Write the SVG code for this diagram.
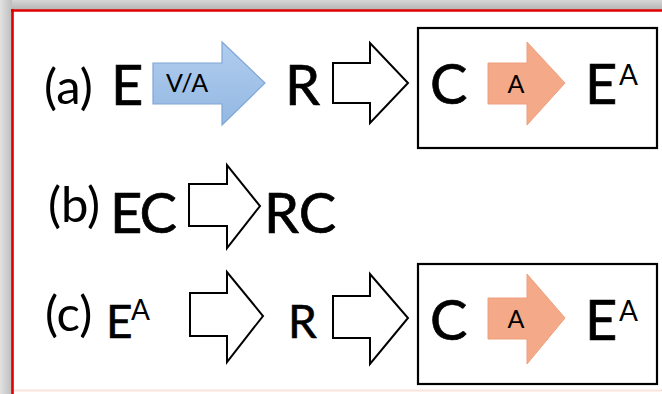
<svg xmlns="http://www.w3.org/2000/svg" width="662" height="394" viewBox="0 0 662 394">
  <defs>
    <linearGradient id="shadeTop" x1="0" y1="0" x2="0" y2="1">
      <stop offset="0" stop-color="#d6d6d6"/>
      <stop offset="1" stop-color="#b4b4b4"/>
    </linearGradient>
    <linearGradient id="shadeLeft" x1="0" y1="0" x2="1" y2="0">
      <stop offset="0" stop-color="#e2e2e2"/>
      <stop offset="1" stop-color="#bdbdbd"/>
    </linearGradient>
    <linearGradient id="blueFill" x1="0" y1="0" x2="0" y2="1">
      <stop offset="0" stop-color="#b0cdee"/>
      <stop offset="1" stop-color="#94b8e2"/>
    </linearGradient>
  </defs>
  <style>
    .t { font-family: Lato, "Open Sans", "Liberation Sans", sans-serif; fill: #000; stroke: #000; stroke-width: 0; }
    .big { font-size: 56px; stroke-width: 0.7; }
    .mid { font-size: 46px; stroke-width: 0.6; }
    .lbl { font-size: 49px; }
    .sup { font-size: 28px; }
    .tag { font-size: 25px; text-anchor: middle; }
    .hollow { fill: #fff; stroke: #000; stroke-width: 2; stroke-linejoin: miter; }
    .blue { fill: url(#blueFill); stroke: #7fa6d6; stroke-width: 1.2; }
    .orange { fill: #f4a988; stroke: #eea07e; stroke-width: 1; }
    .box { fill: none; stroke: #000; stroke-width: 2.2; }
  </style>

  <!-- page background, drop shadow and frame -->
  <rect x="0" y="0" width="662" height="394" fill="#fff"/>
  <rect x="0" y="0" width="662" height="10" fill="url(#shadeTop)"/>
  <rect x="0" y="0" width="12" height="394" fill="url(#shadeLeft)"/>
  <line x1="12.5" y1="9" x2="12.5" y2="394" stroke="#e00000" stroke-width="2.6"/>
  <line x1="11" y1="10.5" x2="662" y2="10.5" stroke="#e00000" stroke-width="2.6"/>
  <line x1="14" y1="390.5" x2="662" y2="390.5" stroke="#fbe4dc" stroke-width="2"/>

  <!-- row (a) -->
  <g id="row-a-label"><text class="t lbl" x="44" y="104">(a)</text></g>
  <g id="node-a-E"><text class="t big" x="111" y="105">E</text></g>
  <g id="node-a-R"><text class="t big" x="285" y="105">R</text></g>
  <g id="node-a-box">
    <rect class="box" x="418" y="28" width="239" height="120"/>
    <text class="t big" x="430" y="104">C</text>
    <text class="t big" x="585" y="104">E</text>
    <text class="t sup" x="619" y="85">A</text>
  </g>

  <!-- row (b) -->
  <g id="row-b-label"><text class="t lbl" x="48" y="222">(b)</text></g>
  <g id="node-b-EC"><text class="t big" x="110" y="233" letter-spacing="-2">EC</text></g>
  <g id="node-b-RC"><text class="t big" x="264" y="233">RC</text></g>

  <!-- row (c) -->
  <g id="row-c-label"><text class="t lbl" x="45" y="331">(c)</text></g>
  <g id="node-c-E">
    <text class="t mid" x="106" y="338">E</text>
    <text class="t sup" x="131" y="320">A</text>
  </g>
  <g id="node-c-R"><text class="t mid" x="288" y="338">R</text></g>
  <g id="node-c-box">
    <rect class="box" x="418" y="264" width="239" height="120"/>
    <text class="t big" x="430" y="340">C</text>
    <text class="t big" x="585" y="340">E</text>
    <text class="t sup" x="619" y="321">A</text>
  </g>

  <!-- connectors: block arrows -->
  <g id="connectors">
    <polygon class="blue" points="153,63 222,63 222,42 265,83 222,125 222,104 153,104"/>
    <text class="t tag" x="187" y="92">V/A</text>
    <polygon class="hollow" points="333,63 370,63 370,43 408,83 370,123 370,103 333,103"/>
    <polygon class="orange" points="488,63 527,63 527,42 565,83 527,125 527,104 488,104"/>
    <text class="t tag" x="516" y="93">A</text>

    <polygon class="hollow" points="189,184 227,184 227,165 260,206 227,248 227,226 189,226"/>

    <polygon class="hollow" points="190,293 227,293 227,272 263,316 227,362 227,336 190,336"/>
    <polygon class="hollow" points="333,296 370,296 370,274 408,318 370,364 370,338 333,338"/>
    <polygon class="orange" points="488,298 527,298 527,274 565,318 527,364 527,339 488,339"/>
    <text class="t tag" x="516" y="328">A</text>
  </g>
</svg>
